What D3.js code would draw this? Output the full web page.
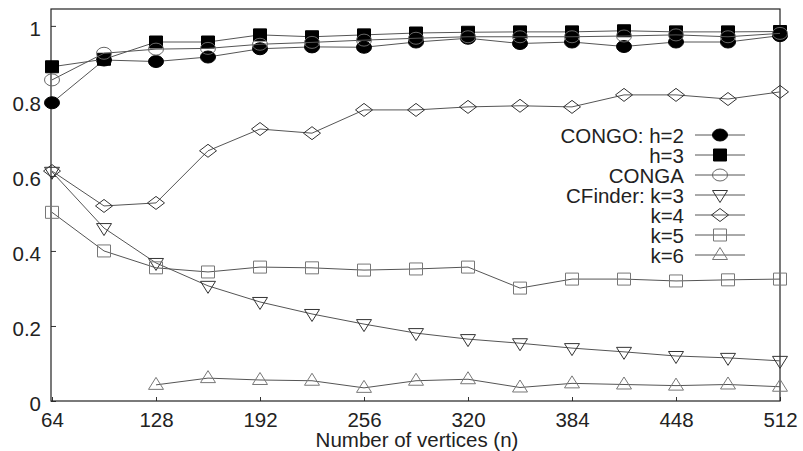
<!DOCTYPE html>
<html>
<head>
<meta charset="utf-8">
<script src="https://cdnjs.cloudflare.com/ajax/libs/d3/7.8.5/d3.min.js"></script>
<style>
  body { margin: 0; background: #fff; }
  text { font-family: "Liberation Sans", Arial, sans-serif; fill: #222; }
</style>
</head>
<body>
<div id="my_dataviz"></div>
<script>
// data
var vertices = [64, 96, 128, 160, 192, 224, 256, 288, 320, 352, 384, 416, 448, 480, 512];
var xTicks = [64, 128, 192, 256, 320, 384, 448, 512];
var yTicks = [0, 0.2, 0.4, 0.6, 0.8, 1];

var congoH2 = [0.795, 0.909, 0.905, 0.917, 0.939, 0.944, 0.943, 0.957, 0.967, 0.953, 0.957, 0.945, 0.957, 0.957, 0.974];
var congoH3 = [0.891, 0.911, 0.957, 0.957, 0.976, 0.971, 0.976, 0.981, 0.983, 0.984, 0.984, 0.987, 0.984, 0.984, 0.985];
var conga = [0.856, 0.927, 0.938, 0.940, 0.951, 0.956, 0.962, 0.967, 0.971, 0.971, 0.971, 0.973, 0.976, 0.971, 0.980];
var cfK3 = [0.611, 0.461, 0.368, 0.307, 0.264, 0.232, 0.205, 0.181, 0.165, 0.154, 0.141, 0.131, 0.120, 0.115, 0.107];
var cfK4 = [0.613, 0.520, 0.528, 0.667, 0.725, 0.714, 0.776, 0.776, 0.784, 0.787, 0.784, 0.816, 0.816, 0.805, 0.824];
var cfK5 = [0.503, 0.400, 0.355, 0.344, 0.357, 0.355, 0.349, 0.352, 0.357, 0.301, 0.325, 0.325, 0.320, 0.323, 0.325];
var cfK6 = [null, null, 0.043, 0.061, 0.056, 0.054, 0.035, 0.054, 0.058, 0.036, 0.047, 0.044, 0.041, 0.044, 0.038];

var seriesNames = ["CONGO: h=2", "h=3", "CONGA", "CFinder: k=3", "k=4", "k=5", "k=6"];
var seriesValues = [congoH2, congoH3, conga, cfK3, cfK4, cfK5, cfK6];
var seriesShapes = ["circleFilled", "squareFilled", "circle", "triangleDown", "diamond", "square", "triangleUp"];

// set the dimensions and margins of the graph
var margin = { top: 9, right: 23, bottom: 50, left: 51 },
    width = 803 - margin.left - margin.right,
    height = 451 - margin.top - margin.bottom;

var svg = d3.select("#my_dataviz")
    .append("svg")
    .attr("width", 803)
    .attr("height", 451)
    .append("g")
    .attr("transform", "translate(" + margin.left + "," + margin.top + ")");

var x = d3.scaleLinear().domain([64, 512]).range([1, width]);
var y = d3.scaleLinear().domain([0, 1.045]).range([height, 0]);

// axes with inward ticks
var xAxis = svg.append("g")
    .attr("transform", "translate(0," + height + ")")
    .call(d3.axisBottom(x).tickValues(xTicks).tickSizeInner(-4).tickSizeOuter(0).tickPadding(11));
var yAxis = svg.append("g")
    .call(d3.axisLeft(y).tickValues(yTicks).tickSizeInner(-5).tickSizeOuter(0).tickPadding(10)
        .tickFormat(function(d) { return d === 0 || d === 1 ? d : d3.format(".1f")(d); }));
yAxis.selectAll(".tick text").attr("dy", "0.47em");

[xAxis, yAxis].forEach(function(a) {
    a.select(".domain").remove();
    a.selectAll(".tick line").attr("stroke", "#333");
    a.selectAll(".tick text").style("font-size", "20.5px").attr("fill", "#222");
});

// frame
svg.append("rect")
    .attr("width", width)
    .attr("height", height)
    .attr("fill", "none")
    .attr("stroke", "#222")
    .attr("stroke-width", 1.2);

svg.append("text")
    .attr("x", 366)
    .attr("y", height + 46)
    .attr("text-anchor", "middle")
    .style("font-size", "20.5px")
    .text("Number of vertices (n)");

// marker drawing
function marker(sel, shape) {
    var p;
    if (shape === "circleFilled" || shape === "circle") {
        sel.append("ellipse").attr("rx", 7.5).attr("ry", 6)
            .attr("fill", shape === "circle" ? "none" : "#000")
            .attr("stroke", shape === "circle" ? "#666" : "#000");
        return;
    }
    if (shape === "squareFilled") p = "M-6.5,-6H6.5V6H-6.5Z";
    if (shape === "square") p = "M-6.5,-6H6.5V6H-6.5Z";
    if (shape === "diamond") p = "M-8.5,0L0,-6.5L8.5,0L0,6.5Z";
    if (shape === "triangleDown") p = "M-7.5,-4.5H7.5L0,7.5Z";
    if (shape === "triangleUp") p = "M-7.5,4.5H7.5L0,-7.5Z";
    sel.append("path").attr("d", p)
        .attr("fill", shape === "squareFilled" ? "#000" : "none")
        .attr("stroke", shape === "squareFilled" ? "#000" : (shape === "diamond" || shape === "triangleDown" ? "#333" : "#777"));
}

var line = d3.line()
    .defined(function(d) { return d[1] != null; })
    .x(function(d) { return x(d[0]); })
    .y(function(d) { return y(d[1]); });

seriesValues.forEach(function(vals, i) {
    var pts = vertices.map(function(v, j) { return [v, vals[j]]; });
    svg.append("path")
        .datum(pts)
        .attr("d", line)
        .attr("fill", "none")
        .attr("stroke", "#555")
        .attr("stroke-width", 1);
    svg.selectAll(".m" + i)
        .data(pts.filter(function(d) { return d[1] != null; }))
        .enter()
        .append("g")
        .attr("class", "m" + i)
        .attr("transform", function(d) { return "translate(" + x(d[0]) + "," + y(d[1]) + ")"; })
        .each(function() { marker(d3.select(this), seriesShapes[i]); });
});

// legend
var legend = svg.append("g").attr("transform", "translate(633,126)");
seriesNames.forEach(function(name, i) {
    var row = legend.append("g").attr("transform", "translate(0," + (i * 20) + ")");
    row.append("text")
        .attr("x", 0)
        .attr("y", 7.5)
        .attr("text-anchor", "end")
        .style("font-size", "20.5px")
        .text(name);
    row.append("line")
        .attr("x1", 11).attr("x2", 61)
        .attr("stroke", "#555");
    marker(row.append("g").attr("transform", "translate(36,0)"), seriesShapes[i]);
});
</script>
</body>
</html>
